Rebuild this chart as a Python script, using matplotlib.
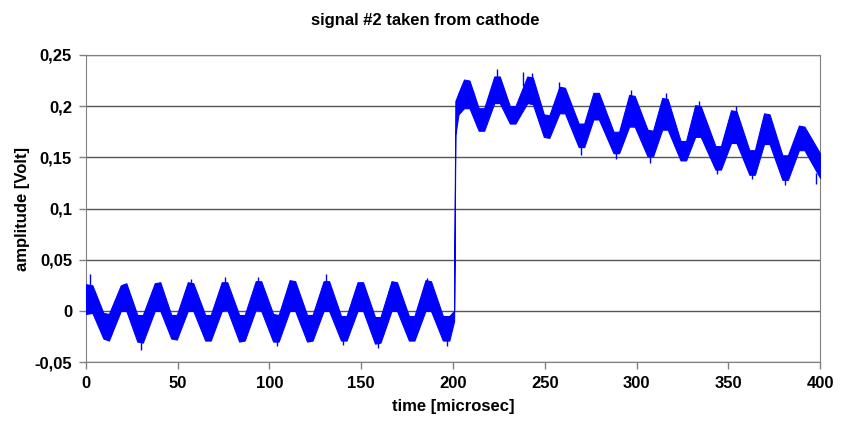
import matplotlib.pyplot as plt
from matplotlib.ticker import FuncFormatter

plt.rcParams['font.family'] = ['Liberation Sans', 'DejaVu Sans']
plt.rcParams['font.weight'] = 'bold'

# envelope of the noisy trace (edges at crests / troughs)
t_base = [0, 3.5, 9.5, 12.5, 19, 22, 28, 31, 37.5, 40.5, 46.5, 49.5, 55.5, 58.5,
          65, 68, 74, 77, 83.5, 86.5, 92.5, 95.5, 102, 105, 111, 114, 120.5, 123.5,
          129.5, 132.5, 139, 142, 148, 151, 157.5, 160.5, 166.5, 169.5, 176, 179,
          185, 188, 194.5, 198, 200.6]
hi_base = [0.026, 0.025, -0.002, -0.003, 0.025, 0.027, -0.004, -0.004, 0.027, 0.028,
           -0.004, -0.004, 0.028, 0.027, -0.004, -0.004, 0.028, 0.028, -0.004, -0.004,
           0.029, 0.029, -0.003, -0.004, 0.030, 0.029, -0.004, -0.004, 0.029, 0.029,
           -0.005, -0.005, 0.028, 0.028, -0.006, -0.006, 0.029, 0.028, -0.005, -0.005,
           0.030, 0.029, -0.005, -0.005, 0.000]
lo_base = [-0.003, -0.002, -0.027, -0.029, 0.000, 0.000, -0.030, -0.031, 0.000, 0.000,
           -0.027, -0.028, 0.000, 0.000, -0.029, -0.029, 0.000, 0.001, -0.030, -0.029,
           0.001, 0.000, -0.030, -0.030, 0.000, 0.000, -0.030, -0.029, 0.000, 0.000,
           -0.029, -0.029, 0.000, 0.000, -0.032, -0.031, 0.000, 0.000, -0.029, -0.029,
           0.000, 0.000, -0.029, -0.029, -0.010]

t_step = [201.3, 203, 206, 209, 214, 217, 222.5, 225.5, 231, 234, 240.5, 243.5,
          249.5, 252.5, 258, 261, 268.5, 271.5, 276.5, 279.5, 287.5, 290.5, 296, 299,
          306, 309, 314, 317, 324, 327, 332, 335, 343, 346, 351.5, 354.5, 361.5, 364.5,
          369.5, 372.5, 379.5, 382.5, 388.5, 391.5, 400]
hi_step = [0.205, 0.213, 0.226, 0.225, 0.198, 0.198, 0.229, 0.229, 0.200, 0.200,
           0.229, 0.228, 0.192, 0.191, 0.219, 0.218, 0.183, 0.183, 0.213, 0.213,
           0.175, 0.175, 0.211, 0.210, 0.177, 0.176, 0.208, 0.207, 0.166, 0.166,
           0.201, 0.200, 0.161, 0.161, 0.196, 0.195, 0.157, 0.157, 0.193, 0.192,
           0.152, 0.152, 0.181, 0.180, 0.154]
lo_step = [0.172, 0.192, 0.198, 0.198, 0.176, 0.176, 0.203, 0.203, 0.183, 0.183,
           0.203, 0.202, 0.170, 0.169, 0.193, 0.193, 0.160, 0.160, 0.187, 0.187,
           0.154, 0.154, 0.180, 0.180, 0.151, 0.151, 0.177, 0.177, 0.147, 0.147,
           0.170, 0.170, 0.138, 0.138, 0.164, 0.164, 0.133, 0.133, 0.163, 0.163,
           0.128, 0.128, 0.157, 0.157, 0.130]

# isolated noise spikes sticking out of the band
spike_t = [2, 30, 57, 76, 94, 104, 131, 140, 159, 186, 197,
           211, 224, 238, 243, 258, 270, 289, 297, 307.5, 316, 334, 344, 354, 363, 381, 398]
spike_lo = [0.020, -0.025, 0.020, 0.020, 0.020, -0.025, 0.020, -0.025, -0.025, 0.020, -0.025,
            0.205, 0.222, 0.220, 0.222, 0.212, 0.165, 0.158, 0.205, 0.153, 0.203, 0.195,
            0.142, 0.190, 0.137, 0.132, 0.135]
spike_hi = [0.036, -0.038, 0.031, 0.033, 0.033, -0.034, 0.036, -0.033, -0.036, 0.032, -0.034,
            0.215, 0.236, 0.233, 0.232, 0.224, 0.152, 0.148, 0.216, 0.144, 0.213, 0.205,
            0.134, 0.200, 0.129, 0.123, 0.124]

t = t_base + t_step
hi = hi_base + hi_step
lo = lo_base + lo_step

yticks = [-0.05, 0, 0.05, 0.1, 0.15, 0.2, 0.25]
xticks = [0, 50, 100, 150, 200, 250, 300, 350, 400]

fig = plt.figure(figsize=(8.51, 4.21), dpi=100)
ax = fig.add_axes([0.101, 0.140, 0.8626, 0.7294])

for y in yticks:
    ax.axhline(y, color='#555555', lw=1, zorder=1)

ax.fill_between(t, lo, hi, color='#0000ff', lw=0.8, edgecolor='#0000ff', zorder=3)
ax.vlines(spike_t, spike_lo, spike_hi, color='#0000ff', lw=1, zorder=3)

ax.set_xlim(0, 400)
ax.set_ylim(-0.05, 0.25)
ax.set_xticks(xticks)
ax.set_yticks(yticks)
ax.yaxis.set_major_formatter(FuncFormatter(lambda v, p: f'{v:g}'.replace('.', ',')))
ax.tick_params(direction='out', length=5, width=1, color='#808080', labelsize=12, pad=5)
for s in ax.spines.values():
    s.set_color('#808080')

ax.set_xlabel('time [microsec]', fontsize=12, fontweight='bold', labelpad=6)
ax.set_ylabel('amplitude [Volt]', fontsize=12, fontweight='bold', labelpad=3)
fig.suptitle('signal #2 taken from cathode', x=0.5, y=0.97, fontsize=12, fontweight='bold')

fig.savefig('out.png', dpi=100)
